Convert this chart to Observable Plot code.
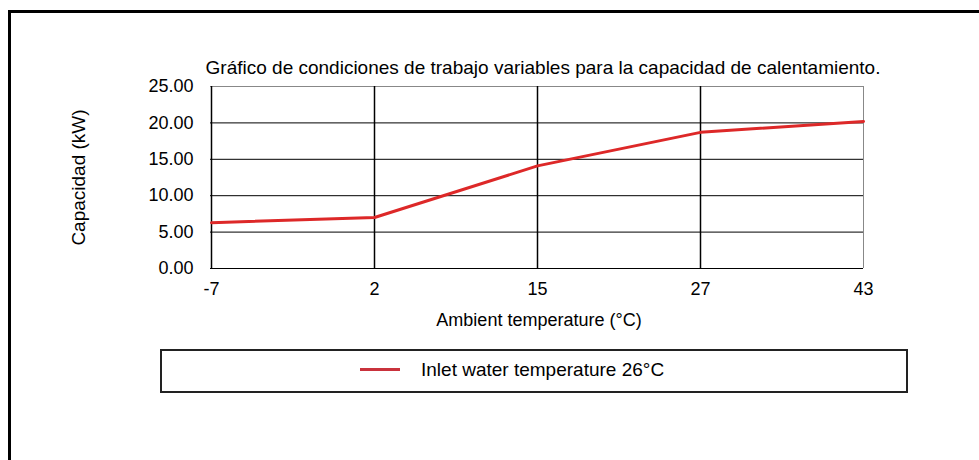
<!DOCTYPE html>
<html>
<head>
<meta charset="utf-8">
<script src="https://cdn.jsdelivr.net/npm/d3@7"></script>
<script src="https://cdn.jsdelivr.net/npm/@observablehq/plot@0.6"></script>
<style>
  html, body { margin: 0; padding: 0; background: #fff; }
  #wrap { position: relative; width: 979px; height: 460px; overflow: hidden; font-family: "Liberation Sans", Arial, sans-serif; }
  #frame { position: absolute; left: 8px; top: 10px; width: 980px; height: 460px; border-top: 3px solid #000; border-left: 3px solid #000; }
  #chart { position: absolute; left: 0; top: 0; }
  #legend { position: absolute; left: 160px; top: 349px; width: 744px; height: 40px; border: 2px solid #222; font-size: 19px; line-height: 19px; color: #000; }
  #legend .sw { position: absolute; left: 198px; top: 17px; width: 40px; height: 3px; background: #c9323c; }
  #legend .lb { position: absolute; left: 259px; top: 9px; white-space: nowrap; }
</style>
</head>
<body>
<div id="wrap">
  <div id="frame"></div>
  <div id="chart"></div>
  <div id="legend"><span class="sw"></span><span class="lb" id="legendLabel"></span></div>
</div>
<script>
const title = "Gráfico de condiciones de trabajo variables para la capacidad de calentamiento.";
const xTitle = "Ambient temperature (°C)";
const yTitle = "Capacidad (kW)";
const seriesName = "Inlet water temperature 26°C";
const ambientTemps = [-7, 2, 15, 27, 43];
const capacity = [6.3, 7.0, 14.1, 18.7, 20.2];
const yTicks = [0, 5, 10, 15, 20, 25];

document.getElementById("legendLabel").textContent = seriesName;

const data = ambientTemps.map((t, i) => ({t, c: capacity[i]}));
const innerGridX = ambientTemps.slice(0, -1);
const lastX = ambientTemps.slice(-1);
const innerGridY = yTicks.slice(0, -1);
const lastY = yTicks.slice(-1);

const plot = Plot.plot({
  width: 979,
  height: 340,
  marginLeft: 210,
  marginRight: 116,
  marginTop: 86,
  marginBottom: 72,
  style: {fontFamily: "Liberation Sans, Arial, sans-serif", fontSize: "18px", color: "#000", background: "transparent"},
  x: {type: "point", domain: ambientTemps, padding: 0, label: null, tickSize: 0, tickPadding: 14, tickFormat: d => String(d)},
  y: {domain: [0, 25], ticks: yTicks, label: null, tickSize: 0, tickPadding: 17, tickFormat: d3.format(".2f")},
  marks: [
    Plot.ruleY(lastY, {stroke: "#888", strokeWidth: 1}),
    Plot.ruleX(lastX, {stroke: "#888", strokeWidth: 1}),
    Plot.ruleY(innerGridY, {stroke: "#000", strokeWidth: 1}),
    Plot.ruleX(innerGridX, {stroke: "#000", strokeWidth: 1.5}),
    Plot.line(data, {x: "t", y: "c", stroke: "#dd2828", strokeWidth: 3}),
    Plot.text([title], {frameAnchor: "top", lineAnchor: "middle", dy: -19, dx: 6, text: d => d, fontSize: 19}),
    Plot.text([xTitle], {frameAnchor: "bottom", lineAnchor: "middle", dy: 52, dx: 2, text: d => d, fontSize: 18}),
    Plot.text([yTitle], {frameAnchor: "left", textAnchor: "middle", lineAnchor: "middle", dx: -132, rotate: -90, text: d => d, fontSize: 19})
  ]
});
document.getElementById("chart").appendChild(plot);
</script>
</body>
</html>
